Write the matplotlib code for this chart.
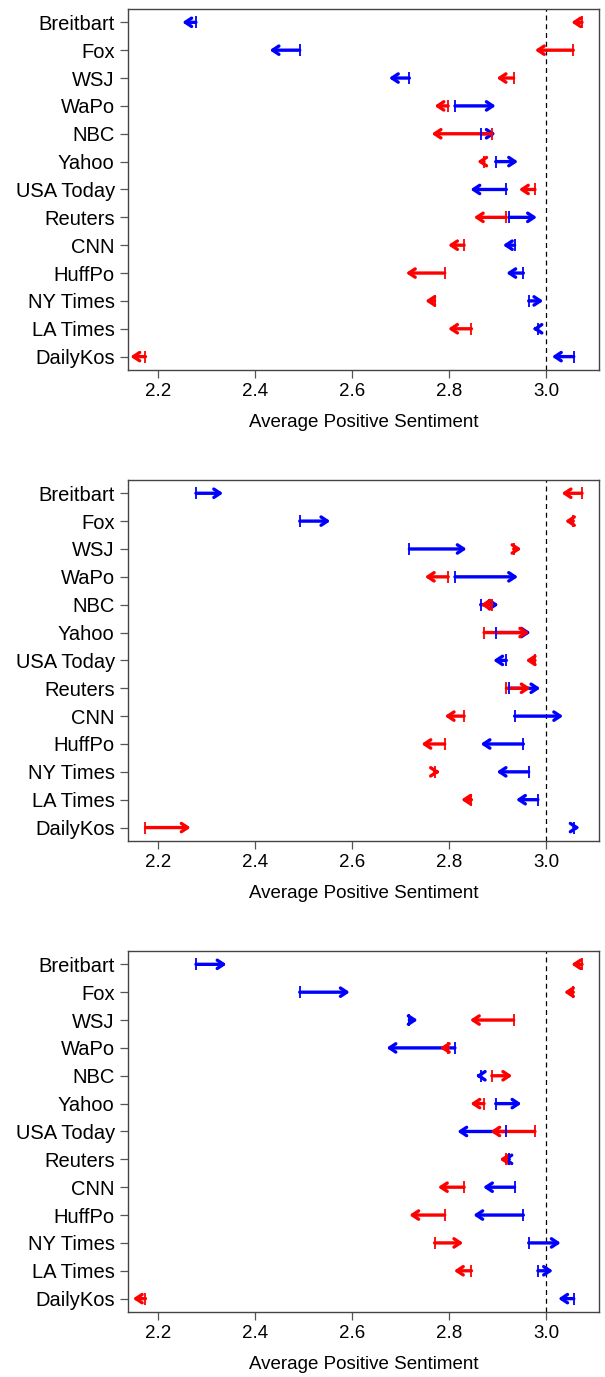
import matplotlib.pyplot as plt
import numpy as np

plt.rcParams['font.family'] = ['Liberation Sans', 'DejaVu Sans']

outlets = ['Breitbart', 'Fox', 'WSJ', 'WaPo', 'NBC', 'Yahoo', 'USA Today',
           'Reuters', 'CNN', 'HuffPo', 'NY Times', 'LA Times', 'DailyKos']

# starting points (same in every panel)
red_start = [3.074, 3.056, 2.933, 2.798, 2.888, 2.872, 2.977, 2.918, 2.831,
             2.791, 2.770, 2.846, 2.174]
blue_start = [2.278, 2.492, 2.718, 2.812, 2.865, 2.896, 2.918, 2.924, 2.935,
              2.953, 2.964, 2.983, 3.057]

# end points, one list per panel
red_end_1 = [3.052, 2.977, 2.898, 2.770, 2.764, 2.858, 2.944, 2.851, 2.798,
             2.711, 2.751, 2.798, 2.143]
blue_end_1 = [2.250, 2.430, 2.676, 2.896, 2.896, 2.942, 2.844, 2.981, 2.911,
              2.918, 2.994, 2.972, 3.012]

red_end_2 = [3.032, 3.039, 2.949, 2.750, 2.865, 2.965, 2.958, 2.968, 2.791,
             2.743, 2.781, 2.825, 2.267]
blue_end_2 = [2.334, 2.555, 2.836, 2.942, 2.902, 2.968, 2.891, 2.988, 3.035,
              2.865, 2.898, 2.938, 3.069]

red_end_3 = [3.052, 3.037, 2.843, 2.781, 2.930, 2.844, 2.885, 2.904, 2.777,
             2.718, 2.829, 2.810, 2.148]
blue_end_3 = [2.341, 2.595, 2.735, 2.671, 2.855, 2.949, 2.817, 2.910, 2.870,
              2.850, 3.030, 3.014, 3.025]

panels = [(red_end_1, blue_end_1), (red_end_2, blue_end_2), (red_end_3, blue_end_3)]
bottoms = [0.7313, 0.3893, 0.0472]

fig = plt.figure(figsize=(6.05, 13.77), dpi=100)
n = len(outlets)
ypos = np.arange(n)

for (red_end, blue_end), b in zip(panels, bottoms):
    ax = fig.add_axes([0.2116, b, 0.7785, 0.2622])
    ax.axvline(3.0, color='black', ls=(0, (4, 3)), lw=0.9, zorder=1)
    for starts, ends, col in [(blue_start, blue_end, '#0000ff'),
                              (red_start, red_end, '#ff0000')]:
        for y, s, e in zip(ypos, starts, ends):
            ax.annotate('', xy=(e, y), xytext=(s, y),
                        arrowprops=dict(arrowstyle='->,head_length=0.45,head_width=0.3',
                                        color=col, lw=2.4, shrinkA=0, shrinkB=0),
                        zorder=3)
    ax.plot(red_start, ypos, '|', color='#ff0000', ms=9, mew=1.3, zorder=4)
    ax.plot(blue_start, ypos, '|', color='#0000ff', ms=9, mew=1.3, zorder=4)

    ax.set_xlim(2.138, 3.109)
    ax.set_ylim(n - 1 + 0.48, -0.48)
    ax.set_yticks(ypos)
    ax.set_yticklabels(outlets)
    ax.set_xticks([2.2, 2.4, 2.6, 2.8, 3.0])
    ax.set_xticklabels(['2.2', '2.4', '2.6', '2.8', '3.0'])
    ax.tick_params(axis='both', length=5.5, width=0.9, color='#555555', pad=4)
    ax.tick_params(axis='x', labelsize=13.5)
    ax.tick_params(axis='y', labelsize=14.5)
    for sp in ax.spines.values():
        sp.set_color('#444444')
        sp.set_linewidth(1.0)
    ax.set_xlabel('Average Positive Sentiment', fontsize=13.5, labelpad=10)

fig.savefig('out.png', dpi=100)
